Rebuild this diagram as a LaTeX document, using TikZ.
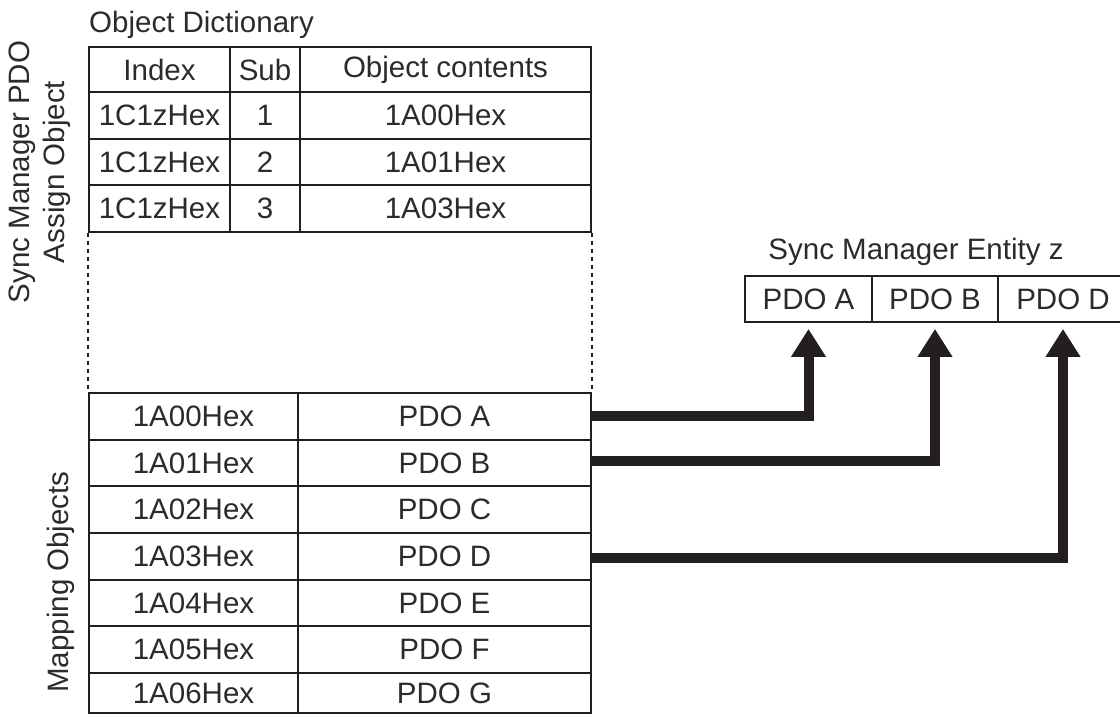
\documentclass[tikz,border=0pt]{standalone}
\usepackage{fontspec}
\setmainfont{Liberation Sans}
\usetikzlibrary{arrows.meta}
\definecolor{ink}{HTML}{231F20}
\definecolor{txt}{HTML}{2B2B2B}
\tikzset{
  cell/.style n args={2}{draw=ink, line width=1.8pt, inner sep=0pt, minimum width=#1, minimum height=#2},
  lbl/.style={inner sep=0pt, text=txt},
  dots/.style={draw=ink, line width=2.6pt, dash pattern=on 4pt off 4pt},
  conn/.style={draw=ink, line width=10pt, line join=miter, -{Triangle[width=33pt,length=28pt]}, shorten >=6pt},
}
\begin{document}
\begin{tikzpicture}[x=1pt, y=-1pt, font=\fontsize{29.5}{34}\selectfont, text=txt]
\useasboundingbox (0,0) rectangle (1120,715);
% titles
\node[lbl, anchor=west] (odt) at (89,25) {Object Dictionary};
\node[lbl, rotate=90] (sl1) at (22,172) {Sync Manager PDO};
\node[lbl, rotate=90] (sl2) at (57,172) {Assign Object};
\node[lbl, rotate=90] (mol) at (61,582) {Mapping Objects};
% top table
\node[cell={141pt}{45pt}] (h1) at (159.5,69.5) {Index};
\node[cell={70pt}{45pt}] (h2) at (265,69.5) {Sub};
\node[cell={291pt}{45pt}] (h3) at (445.5,69.5) {Object contents};
\node[cell={141pt}{46.67pt}] (a1) at (159.5,115.33) {1C1zHex};
\node[cell={70pt}{46.67pt}] (b1) at (265,115.33) {1};
\node[cell={291pt}{46.67pt}] (c1) at (445.5,115.33) {1A00Hex};
\node[cell={141pt}{46.67pt}] (a2) at (159.5,162) {1C1zHex};
\node[cell={70pt}{46.67pt}] (b2) at (265,162) {2};
\node[cell={291pt}{46.67pt}] (c2) at (445.5,162) {1A01Hex};
\node[cell={141pt}{46.67pt}] (a3) at (159.5,208.67) {1C1zHex};
\node[cell={70pt}{46.67pt}] (b3) at (265,208.67) {3};
\node[cell={291pt}{46.67pt}] (c3) at (445.5,208.67) {1A03Hex};
% mapping table
\node[cell={209pt}{46.67pt}] (m0) at (193.5,416.33) {1A00Hex};
\node[cell={293pt}{46.67pt}] (p0) at (444.5,416.33) {PDO A};
\node[cell={209pt}{46.67pt}] (m1) at (193.5,463) {1A01Hex};
\node[cell={293pt}{46.67pt}] (p1) at (444.5,463) {PDO B};
\node[cell={209pt}{46.67pt}] (m2) at (193.5,509.67) {1A02Hex};
\node[cell={293pt}{46.67pt}] (p2) at (444.5,509.67) {PDO C};
\node[cell={209pt}{46.67pt}] (m3) at (193.5,556.33) {1A03Hex};
\node[cell={293pt}{46.67pt}] (p3) at (444.5,556.33) {PDO D};
\node[cell={209pt}{46.67pt}] (m4) at (193.5,603) {1A04Hex};
\node[cell={293pt}{46.67pt}] (p4) at (444.5,603) {PDO E};
\node[cell={209pt}{46.67pt}] (m5) at (193.5,649.67) {1A05Hex};
\node[cell={293pt}{46.67pt}] (p5) at (444.5,649.67) {PDO F};
\node[cell={209pt}{40pt}] (m6) at (193.5,693) {1A06Hex};
\node[cell={293pt}{40pt}] (p6) at (444.5,693) {PDO G};
% dotted continuation
\draw[dots] (a3.south west) -- (m0.north west);
\draw[dots] (c3.south east) -- (p0.north east);
% sync manager entity
\node[lbl] (smt) at (916,252) {Sync Manager Entity z};
\node[cell={127pt}{46pt}] (eA) at (808.5,299) {PDO A};
\node[cell={126pt}{46pt}] (eB) at (935,299) {PDO B};
\node[cell={130pt}{46pt}] (eD) at (1063,299) {PDO D};
% connectors
\draw[conn] (p0.east) -| (eA.south);
\draw[conn] ([yshift=2pt]p1.east) -| (eB.south);
\draw[conn] ([yshift=-2pt]p3.east) -| (eD.south);
\end{tikzpicture}
\end{document}
